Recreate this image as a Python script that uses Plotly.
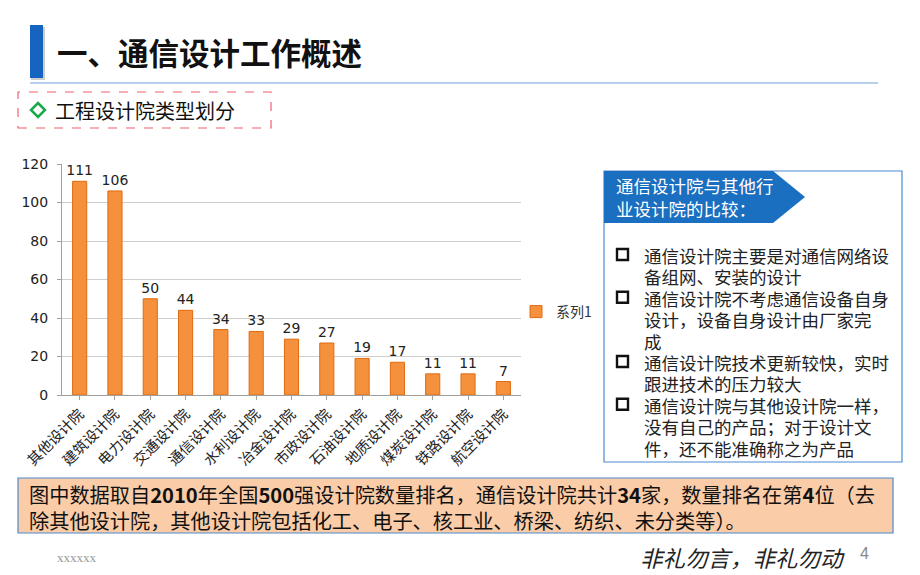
import plotly.graph_objects as go

categories = ["其他设计院", "建筑设计院", "电力设计院", "交通设计院", "通信设计院", "水利设计院",
              "冶金设计院", "市政设计院", "石油设计院", "地质设计院", "煤炭设计院", "铁路设计院", "航空设计院"]
values = [111, 106, 50, 44, 34, 33, 29, 27, 19, 17, 11, 11, 7]
y_ticks = [0, 20, 40, 60, 80, 100, 120]
series_name = "系列1"

bullets = [
    ["通信设计院主要是对通信网络设", "备组网、安装的设计"],
    ["通信设计院不考虑通信设备自身", "设计，设备自身设计由厂家完", "成"],
    ["通信设计院技术更新较快，实时", "跟进技术的压力较大"],
    ["通信设计院与其他设计院一样，", "没有自己的产品；对于设计文", "件，还不能准确称之为产品"],
]

W, H = 920, 575
FONT = "Noto Sans CJK SC"


def px(x):
    return x / W


def py(y):
    return 1 - y / H


fig = go.Figure()
fig.add_trace(go.Bar(
    x=categories, y=values, name=series_name,
    marker=dict(color="#F5913C", line=dict(color="#E06A10", width=1)),
    text=[str(v) for v in values], textposition="outside", constraintext="none",
    textfont=dict(size=14, color="#222222", family="DejaVu Sans"),
    cliponaxis=False, showlegend=True,
))

shapes = []
annotations = []

# Title bar & underline
shapes.append(dict(type="rect", xref="paper", yref="paper", x0=px(31), x1=px(45), y0=py(80), y1=py(27),
                   fillcolor="#CCCCCC", line=dict(width=0)))
shapes.append(dict(type="rect", xref="paper", yref="paper", x0=px(30), x1=px(43), y0=py(78), y1=py(25),
                   fillcolor="#1565C0", line=dict(width=0)))
shapes.append(dict(type="line", xref="paper", yref="paper", x0=px(30), x1=px(878), y0=py(83), y1=py(83),
                   line=dict(color="#6FA3D8", width=1.2)))
annotations.append(dict(xref="paper", yref="paper", x=px(55), y=py(52), xanchor="left", yanchor="middle",
                        text="<b>一、通信设计工作概述</b>", showarrow=False,
                        font=dict(size=30.5, color="#111111", family=FONT)))

# Subtitle dashed box
shapes.append(dict(type="rect", xref="paper", yref="paper", x0=px(18), x1=px(271), y0=py(128), y1=py(92),
                   line=dict(color="#F06070", width=1.2, dash="dash"), fillcolor="rgba(0,0,0,0)"))
shapes.append(dict(type="path", xref="paper", yref="paper",
                   path=f"M {px(38)} {py(103)} L {px(45)} {py(110)} L {px(38)} {py(117)} L {px(31)} {py(110)} Z",
                   line=dict(color="#1AA84A", width=2.5), fillcolor="rgba(0,0,0,0)"))
annotations.append(dict(xref="paper", yref="paper", x=px(53), y=py(110), xanchor="left", yanchor="middle",
                        text="工程设计院类型划分", showarrow=False,
                        font=dict(size=20, color="#111111", family=FONT)))

# Right box
shapes.append(dict(type="rect", xref="paper", yref="paper", x0=px(604), x1=px(902), y0=py(462), y1=py(171),
                   line=dict(color="#4A8CD0", width=1.2), fillcolor="white"))
shapes.append(dict(type="path", xref="paper", yref="paper",
                   path=f"M {px(604)} {py(171)} L {px(773)} {py(171)} L {px(805)} {py(197)} "
                        f"L {px(773)} {py(223)} L {px(604)} {py(223)} Z",
                   fillcolor="#1B6FC0", line=dict(width=0)))
annotations.append(dict(xref="paper", yref="paper", x=px(614), y=py(197), xanchor="left", yanchor="middle",
                        text="通信设计院与其他行<br>业设计院的比较：", showarrow=False, align="left",
                        font=dict(size=17.5, color="white", family=FONT)))
line_y = 255
for lines in bullets:
    shapes.append(dict(type="rect", xref="paper", yref="paper", x0=px(617), x1=px(628), y0=py(line_y + 5),
                       y1=py(line_y - 6), line=dict(color="#111111", width=2.4), fillcolor="white"))
    for ln in lines:
        annotations.append(dict(xref="paper", yref="paper", x=px(642), y=py(line_y), xanchor="left",
                                yanchor="middle", text=ln, showarrow=False, height=20, valign="middle",
                                font=dict(size=17.5, color="#222222", family=FONT)))
        line_y += 21.4

# Bottom note box
shapes.append(dict(type="rect", xref="paper", yref="paper", x0=px(18), x1=px(893), y0=py(533), y1=py(478),
                   line=dict(color="#4A8CD0", width=1.2), fillcolor="#FBCCA8"))
note_lines = ["图中数据取自<b>2010</b>年全国<b>500</b>强设计院数量排名，通信设计院共计<b>34</b>家，数量排名在第<b>4</b>位（去",
              "除其他设计院，其他设计院包括化工、电子、核工业、桥梁、纺织、未分类等）。"]
annotations.append(dict(xref="paper", yref="paper", x=px(27), y=py(507.5), xanchor="left",
                        yanchor="middle", text="<br>".join(note_lines), showarrow=False, align="left",
                        font=dict(size=20.2, color="#111111", family=FONT)))

# Footer
annotations.append(dict(xref="paper", yref="paper", x=px(55), y=py(557), xanchor="left", yanchor="middle",
                        text="xxxxxx", showarrow=False, font=dict(size=13, color="#999999", family="Liberation Serif")))
annotations.append(dict(xref="paper", yref="paper", x=px(847), y=py(557), xanchor="right", yanchor="middle",
                        text="<i>非礼勿言，非礼勿动</i>", showarrow=False,
                        font=dict(size=22.5, color="#222222", family=FONT)))
annotations.append(dict(xref="paper", yref="paper", x=px(858), y=py(553), xanchor="left", yanchor="middle",
                        text="4", showarrow=False, font=dict(size=16, color="#888888", family="Liberation Sans")))

fig.update_layout(
    width=W, height=H,
    margin=dict(l=0, r=0, t=0, b=0),
    paper_bgcolor="white", plot_bgcolor="white",
    bargap=0.6,
    font=dict(family=FONT, color="#333333"),
    xaxis=dict(domain=[px(62), px(521)], tickangle=-45, tickfont=dict(size=14.5, color="#222222", family=FONT),
               showline=True, linecolor="#A0A0A0", ticks="outside", ticklen=4, tickcolor="#A0A0A0",
               showgrid=False, automargin=False),
    yaxis=dict(domain=[py(395), py(164)], range=[0, 120], tickvals=y_ticks,
               tickfont=dict(size=14, color="#222222", family="DejaVu Sans"),
               showline=True, linecolor="#A0A0A0", ticks="outside", ticklen=4, tickcolor="#A0A0A0",
               ticklabelstandoff=6,
               showgrid=True, gridcolor="#CFCFCF", gridwidth=1, zeroline=False, automargin=False),
    legend=dict(x=px(516), y=py(312), xanchor="left", yanchor="middle", bgcolor="rgba(0,0,0,0)",
                font=dict(size=14, color="#333333", family=FONT), itemwidth=30),
    shapes=shapes, annotations=annotations,
)

fig.write_html("out.html")
